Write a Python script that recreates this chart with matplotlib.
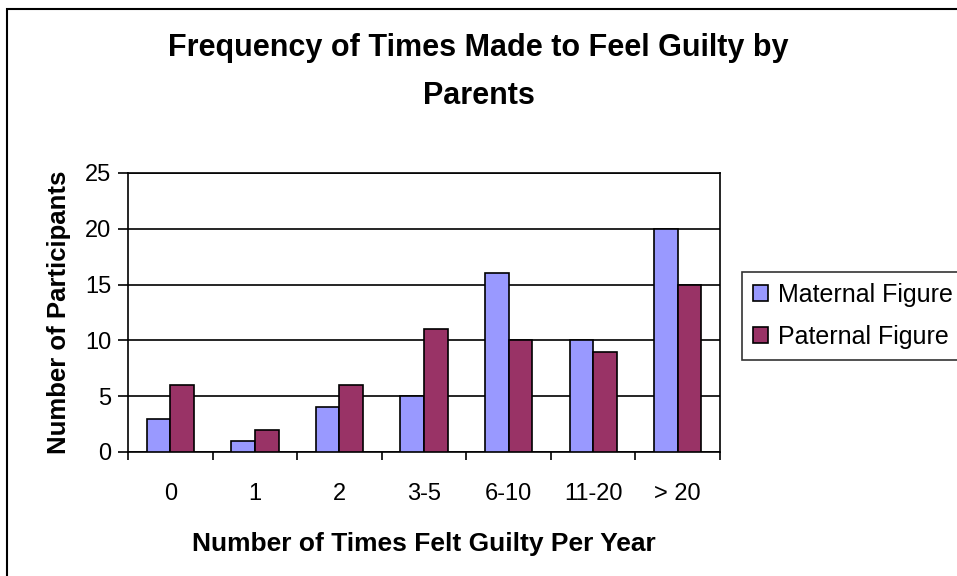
import numpy as np
import matplotlib.pyplot as plt
from matplotlib.patches import Rectangle

# data
categories = ['0', '1', '2', '3-5', '6-10', '11-20', '> 20']
maternal = [3, 1, 4, 5, 16, 10, 20]
paternal = [6, 2, 6, 11, 10, 9, 15]

plt.rcParams['font.family'] = ['Liberation Sans', 'DejaVu Sans']

fig = plt.figure(figsize=(9.57, 5.76), dpi=100)
ax = fig.add_axes([0.1338, 0.2153, 0.6186, 0.4844])

x = np.arange(len(categories))
w = 0.28
ax.bar(x - w/2, maternal, w, color='#9999ff', edgecolor='black', linewidth=1.2,
       label='Maternal Figure', zorder=3)
ax.bar(x + w/2, paternal, w, color='#993366', edgecolor='black', linewidth=1.2,
       label='Paternal Figure', zorder=3)

ax.set_xlim(-0.5, len(categories) - 0.5)
ax.set_ylim(0, 25)
ax.set_yticks(range(0, 26, 5))
ax.yaxis.grid(True, color='black', linewidth=1.2, zorder=0)
ax.set_xticks(x)
ax.set_xticklabels(categories, fontsize=17)
ax.set_xticks(np.arange(-0.5, len(categories)), minor=True)
ax.tick_params(axis='x', which='major', length=0, pad=22)
ax.tick_params(axis='x', which='minor', length=6, width=1.2, direction='out')
ax.tick_params(axis='y', length=7, width=1.2, direction='out', labelsize=17, pad=5)
for s in ax.spines.values():
    s.set_linewidth(1.2)

ax.set_xlabel('Number of Times Felt Guilty Per Year', fontsize=19, fontweight='bold', labelpad=20)
ax.set_ylabel('Number of Participants', fontsize=18.5, fontweight='bold', labelpad=10)

fig.text(0.5, 0.875, 'Frequency of Times Made to Feel Guilty by\nParents', ha='center', va='center',
         fontsize=22, fontweight='bold', linespacing=1.75)

leg = fig.legend(loc='upper left', bbox_to_anchor=(0.775, 0.528), fontsize=18,
                 frameon=True, fancybox=False, edgecolor='black',
                 handlelength=0.6, handleheight=0.6, handletextpad=0.4,
                 labelspacing=0.7, borderpad=0.45, borderaxespad=0)
leg.get_frame().set_linewidth(1.2)

fig.patches.append(Rectangle((0.0075, -0.1), 1.2, 1.085, transform=fig.transFigure,
                             fill=False, edgecolor='black', linewidth=1.5))

fig.savefig('out.png', dpi=100)
